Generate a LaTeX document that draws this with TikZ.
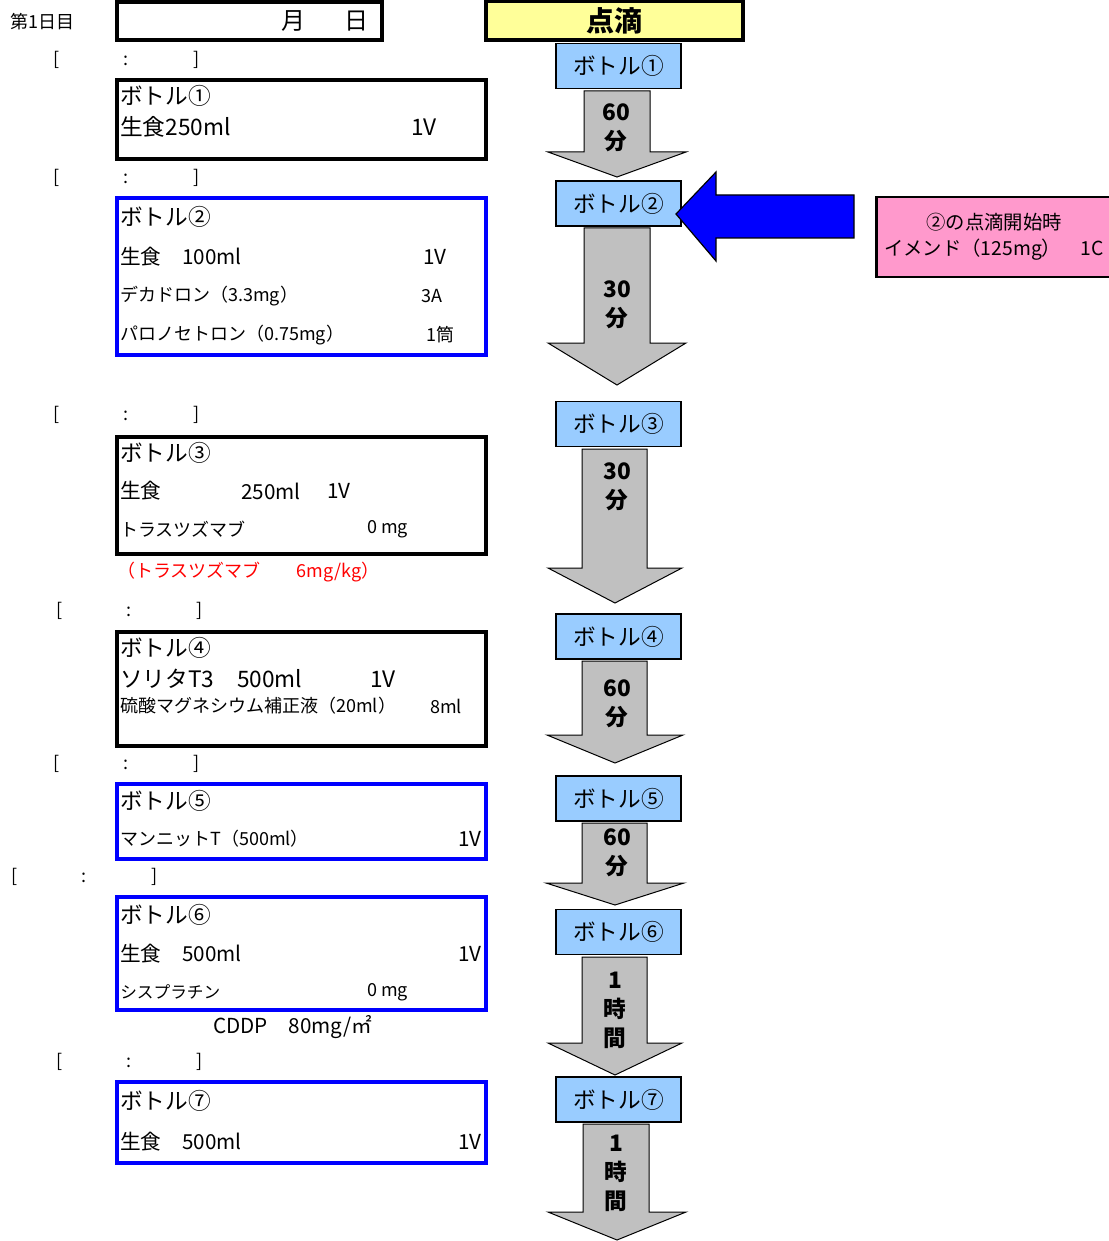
\documentclass[tikz,border=0pt]{standalone}
\usepackage{fontspec}
\setmainfont{Noto Sans CJK JP}

\definecolor{labelblue}{RGB}{153,204,255}
\definecolor{arrowgray}{RGB}{192,192,192}
\definecolor{titleyellow}{RGB}{255,255,153}
\definecolor{notepink}{RGB}{255,153,204}

\newcommand{\fhead}{\fontsize{17pt}{20pt}\selectfont}
\newcommand{\fmid}{\fontsize{15.5pt}{18pt}\selectfont}
\newcommand{\fsmall}{\fontsize{13.5pt}{16pt}\selectfont}
\newcommand{\ftiny}{\fontsize{12.5pt}{15pt}\selectfont}
\newcommand{\fdur}{\fontsize{17pt}{21.75pt}\selectfont}

\begin{document}
\begin{tikzpicture}[x=0.75pt, y=-0.75pt, every node/.style={inner sep=0pt, anchor=west},
	blackbox/.style={draw=black, line width=2.3pt},
	bluebox/.style={draw=blue, line width=2.3pt},
	bottlelabel/.style={draw, line width=1.1pt, fill=labelblue, anchor=center,
		minimum width=93.75pt, minimum height=33.5pt, font=\fhead},
	grayarrow/.style={draw, line width=0.75pt, fill=arrowgray, line join=miter},
	durtext/.style={anchor=center, align=center, font=\bfseries\fdur},
	slot/.style={font=\fsmall}]
	\useasboundingbox (0,0) rectangle (1109,1241);

	% 日付の欄
	\node[font=\fsmall] (day) at (10,22) {第1日目};
	\draw[blackbox] (117,2) rectangle (382,40);
	\node[anchor=center, font=\fontsize{18pt}{20pt}\selectfont] (month) at (293,21) {月};
	\node[anchor=center, font=\fontsize{18pt}{20pt}\selectfont] (date) at (356,21) {日};

	% 時刻の欄
	\node[slot] (t1) at (53,60) {\makebox[52.5pt][l]{[}\makebox[52.5pt][l]{:}]};
	\node[slot] (t2) at (53,178) {\makebox[52.5pt][l]{[}\makebox[52.5pt][l]{:}]};
	\node[slot] (t3) at (53,415) {\makebox[52.5pt][l]{[}\makebox[52.5pt][l]{:}]};
	\node[slot] (t4) at (56,611) {\makebox[52.5pt][l]{[}\makebox[52.5pt][l]{:}]};
	\node[slot] (t5) at (53,764) {\makebox[52.5pt][l]{[}\makebox[52.5pt][l]{:}]};
	\node[slot] (t6) at (11,877) {\makebox[52.5pt][l]{[}\makebox[52.5pt][l]{:}]};
	\node[slot] (t7) at (56,1062) {\makebox[52.5pt][l]{[}\makebox[52.5pt][l]{:}]};

	% ボトル①
	\draw[blackbox] (117,80) rectangle (486,159);
	\node[font=\fhead] (p1) at (120,96) {ボトル①};
	\node[font=\fhead] (p1a) at (120,127) {生食250ml};
	\node[font=\fhead] (p1b) at (411,127) {1V};

	% ボトル②
	\draw[bluebox] (117,198) rectangle (486,355);
	\node[font=\fhead] (p2) at (120,217) {ボトル②};
	\node[font=\fmid] (p2a) at (120,257) {生食　100ml};
	\node[font=\fmid] (p2b) at (423,257) {1V};
	\node[font=\fsmall] (p2c) at (120,296) {デカドロン（3.3mg）};
	\node[font=\fsmall] (p2d) at (421,296) {3A};
	\node[font=\fsmall] (p2e) at (120,335) {パロノセトロン（0.75mg）};
	\node[font=\fsmall] (p2f) at (426,335) {1筒};

	% ボトル③
	\draw[blackbox] (117,437) rectangle (486,554);
	\node[font=\fhead] (p3) at (120,453) {ボトル③};
	\node[font=\fmid] (p3a) at (120,491) {生食};
	\node[font=\fmid] (p3b) at (241,491) {250ml};
	\node[font=\fmid] (p3c) at (327,491) {1V};
	\node[font=\fsmall] (p3d) at (120,529) {トラスツズマブ};
	\node[font=\fsmall] (p3e) at (367,529) {0 mg};
	\node[font=\fsmall, text=red] (p3note) at (117,572) {（トラスツズマブ　　6mg/kg）};

	% ボトル④
	\draw[blackbox] (117,632) rectangle (486,746);
	\node[font=\fhead] (p4) at (120,648) {ボトル④};
	\node[font=\fhead] (p4a) at (120,679) {ソリタT3　500ml};
	\node[font=\fhead] (p4b) at (370,679) {1V};
	\node[font=\fsmall] (p4c) at (120,706) {硫酸マグネシウム補正液（20ml）};
	\node[font=\fsmall] (p4d) at (430,706) {8ml};

	% ボトル⑤
	\draw[bluebox] (117,784) rectangle (486,859);
	\node[font=\fhead] (p5) at (120,801) {ボトル⑤};
	\node[font=\fsmall] (p5a) at (120,839) {マンニットT（500ml）};
	\node[font=\fmid] (p5b) at (458,839) {1V};

	% ボトル⑥
	\draw[bluebox] (117,897) rectangle (486,1010);
	\node[font=\fhead] (p6) at (120,915) {ボトル⑥};
	\node[font=\fmid] (p6a) at (120,954) {生食　500ml};
	\node[font=\fmid] (p6b) at (458,954) {1V};
	\node[font=\ftiny] (p6c) at (120,992) {シスプラチン};
	\node[font=\fsmall] (p6d) at (367,992) {0 mg};
	\node[font=\fmid] (p6note) at (213,1027) {CDDP　80mg/㎡};

	% ボトル⑦
	\draw[bluebox] (117,1082) rectangle (486,1163);
	\node[font=\fhead] (p7) at (120,1101) {ボトル⑦};
	\node[font=\fmid] (p7a) at (120,1142) {生食　500ml};
	\node[font=\fmid] (p7b) at (458,1142) {1V};

	% 点滴の流れ
	\node[draw, line width=2.3pt, fill=titleyellow, anchor=center, minimum width=192.75pt,
		minimum height=29.25pt, font=\bfseries\fontsize{21pt}{24pt}\selectfont] (drip) at (614.5,20.5) {点滴};
	\node[bottlelabel] (b1) at (618.5,66) {ボトル①};
	\node[bottlelabel] (b2) at (618.5,203.5) {ボトル②};
	\node[bottlelabel] (b3) at (618.5,424) {ボトル③};
	\node[bottlelabel] (b4) at (618.5,636.5) {ボトル④};
	\node[bottlelabel] (b5) at (618.5,798.5) {ボトル⑤};
	\node[bottlelabel] (b6) at (618.5,932) {ボトル⑥};
	\node[bottlelabel] (b7) at (618.5,1099.5) {ボトル⑦};

	% 所要時間の矢印
	\draw[grayarrow] (584,91) -- (584,152) -- (548,152) -- (617,177) -- (686,152) -- (650,152) -- (650,91) -- cycle;
	\draw[grayarrow] (584,228) -- (584,343) -- (548,343) -- (617,385) -- (686,343) -- (650,343) -- (650,228) -- cycle;
	\draw[grayarrow] (582,449) -- (582,568) -- (548,568) -- (615,603) -- (682,568) -- (647,568) -- (647,449) -- cycle;
	\draw[grayarrow] (582,661) -- (582,735) -- (547,735) -- (615,763) -- (683,735) -- (647,735) -- (647,661) -- cycle;
	\draw[grayarrow] (582,823) -- (582,883) -- (546,883) -- (615,905) -- (684,883) -- (647,883) -- (647,823) -- cycle;
	\draw[grayarrow] (582,957) -- (582,1043) -- (548,1043) -- (615,1075) -- (682,1043) -- (647,1043) -- (647,957) -- cycle;
	\draw[grayarrow] (583,1124) -- (583,1212) -- (548,1212) -- (617,1240) -- (686,1212) -- (649,1212) -- (649,1124) -- cycle;
	\node[durtext] (d1) at (616,128) {60\\分};
	\node[durtext] (d2) at (617,305) {30\\分};
	\node[durtext] (d3) at (617,487) {30\\分};
	\node[durtext] (d4) at (617,704) {60\\分};
	\node[durtext] (d5) at (617,853) {60\\分};
	\node[durtext] (d6) at (615,1010) {1\\時\\間};
	\node[durtext] (d7) at (616,1173) {1\\時\\間};

	% 制吐剤の指示
	\draw[draw=black, line width=0.9pt, fill=blue, line join=miter] (676,214) -- (716,172) -- (716,195) -- (854,195)
		-- (854,238) -- (716,238) -- (716,261) -- cycle;
	\node[draw, line width=2.2pt, fill=notepink, anchor=center, minimum width=176pt, minimum height=60pt,
		align=center, font=\fontsize{14.5pt}{19.5pt}\selectfont] (imend) at (994,237) {②の点滴開始時\\イメンド（125mg）　1C};
\end{tikzpicture}
\end{document}
